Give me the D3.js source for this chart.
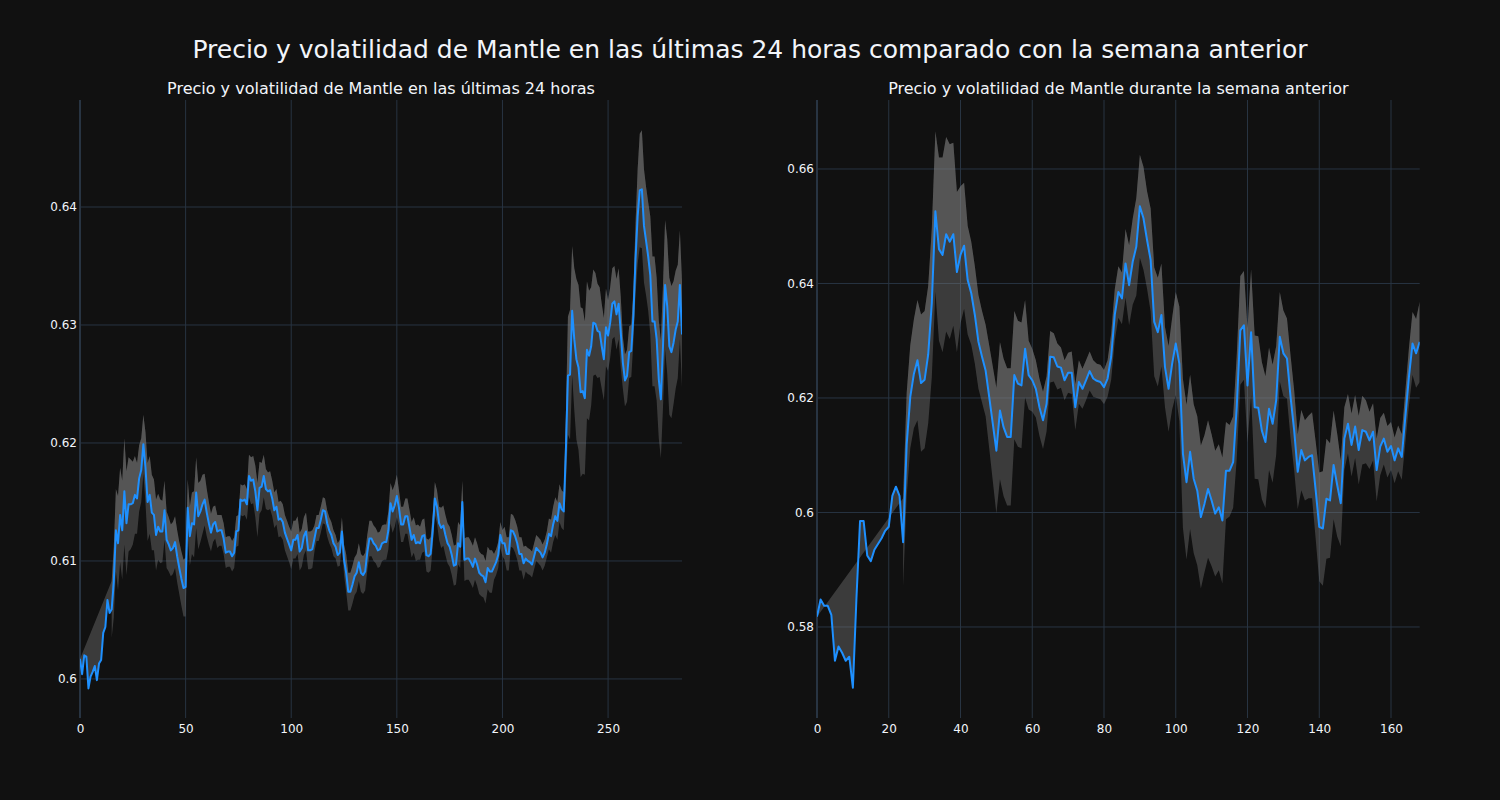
<!DOCTYPE html>
<html><head><meta charset="utf-8">
<script src="https://cdn.jsdelivr.net/npm/d3@7"></script>
<style>html,body{margin:0;padding:0;background:#111111;}svg{display:block;font-family:"DejaVu Sans",Verdana,sans-serif;}</style>
</head><body>
<svg id="chart" width="1500" height="800"></svg>
<script>
const mainTitle = "Precio y volatilidad de Mantle en las últimas 24 horas comparado con la semana anterior";
const leftTitle = "Precio y volatilidad de Mantle en las últimas 24 horas";
const rightTitle = "Precio y volatilidad de Mantle durante la semana anterior";

const leftXTicks = [0, 50, 100, 150, 200, 250];
const leftYTicks = [0.60, 0.61, 0.62, 0.63, 0.64];
const rightXTicks = [0, 20, 40, 60, 80, 100, 120, 140, 160];
const rightYTicks = [0.58, 0.60, 0.62, 0.64, 0.66];

const leftPrice = [
0.6017,0.6004,0.6020,0.6019,0.5992,0.6002,0.6006,0.6011,0.5999,0.6013,
0.6016,0.6039,0.6044,0.6067,0.6056,0.6059,0.6082,0.6126,0.6115,0.6139,
0.6126,0.6159,0.6132,0.6148,0.6148,0.6149,0.6156,0.6153,0.6170,0.6177,
0.6199,0.6179,0.6150,0.6156,0.6141,0.6139,0.6122,0.6129,0.6125,0.6125,
0.6143,0.6118,0.6114,0.6109,0.6111,0.6116,0.6104,0.6094,0.6085,0.6077,
0.6078,0.6145,0.6121,0.6132,0.6131,0.6158,0.6138,0.6142,0.6148,0.6152,
0.6141,0.6132,0.6124,0.6131,0.6133,0.6125,0.6126,0.6126,0.6119,0.6107,
0.6108,0.6108,0.6104,0.6107,0.6125,0.6126,0.6152,0.6151,0.6152,0.6148,
0.6172,0.6168,0.6169,0.6159,0.6143,0.6162,0.6163,0.6172,0.6161,0.6159,
0.6160,0.6153,0.6143,0.6146,0.6135,0.6136,0.6133,0.6124,0.6119,0.6114,
0.6109,0.6118,0.6118,0.6122,0.6108,0.6111,0.6121,0.6125,0.6109,0.6109,
0.6110,0.6119,0.6128,0.6128,0.6135,0.6143,0.6142,0.6132,0.6126,0.6122,
0.6115,0.6112,0.6105,0.6107,0.6125,0.6101,0.6090,0.6074,0.6074,0.6080,
0.6087,0.6090,0.6099,0.6090,0.6088,0.6091,0.6107,0.6119,0.6119,0.6115,
0.6113,0.6109,0.6110,0.6115,0.6116,0.6116,0.6126,0.6149,0.6142,0.6147,
0.6155,0.6145,0.6131,0.6131,0.6138,0.6138,0.6128,0.6118,0.6122,0.6115,
0.6116,0.6115,0.6121,0.6122,0.6105,0.6104,0.6106,0.6126,0.6153,0.6146,
0.6132,0.6128,0.6130,0.6122,0.6115,0.6112,0.6105,0.6096,0.6097,0.6115,
0.6112,0.6150,0.6101,0.6102,0.6102,0.6099,0.6095,0.6102,0.6097,0.6090,
0.6088,0.6087,0.6082,0.6094,0.6091,0.6091,0.6095,0.6099,0.6105,0.6122,
0.6115,0.6115,0.6106,0.6106,0.6126,0.6125,0.6121,0.6115,0.6106,0.6106,
0.6098,0.6102,0.6100,0.6099,0.6097,0.6104,0.6111,0.6109,0.6107,0.6103,
0.6107,0.6114,0.6123,0.6121,0.6131,0.6138,0.6134,0.6149,0.6144,0.6142,
0.6192,0.6257,0.6258,0.6312,0.6288,0.6271,0.6264,0.6243,0.6244,0.6238,
0.6279,0.6274,0.6282,0.6302,0.6301,0.6295,0.6294,0.6282,0.6271,0.6298,
0.6291,0.6302,0.6318,0.6320,0.6309,0.6318,0.6294,0.6268,0.6253,0.6257,
0.6277,0.6278,0.6308,0.6356,0.6392,0.6414,0.6415,0.6384,0.6371,0.6358,
0.6342,0.6303,0.6303,0.6288,0.6254,0.6237,0.6282,0.6334,0.6316,0.6282,
0.6277,0.6285,0.6296,0.6303,0.6334,0.6292
];

const leftVol = [
null,null,null,null,null,null,null,null,null,null,
null,null,null,null,null,0.0024,0.0030,0.0035,0.0040,0.0040,
0.0042,0.0045,0.0044,0.0040,0.0038,0.0035,0.0033,0.0030,0.0028,0.0027,
0.0025,0.0030,0.0033,0.0033,0.0032,0.0030,0.0030,0.0028,0.0027,0.0026,
0.0025,0.0024,0.0023,0.0022,0.0022,0.0022,0.0022,0.0022,0.0023,0.0024,
0.0025,0.0024,0.0025,0.0026,0.0028,0.0030,0.0028,0.0026,0.0025,0.0022,
0.0020,0.0018,0.0016,0.0015,0.0014,0.0014,0.0013,0.0013,0.0013,0.0013,
0.0013,0.0013,0.0013,0.0013,0.0013,0.0013,0.0013,0.0013,0.0013,0.0013,
0.0018,0.0020,0.0020,0.0022,0.0023,0.0022,0.0020,0.0018,0.0017,0.0016,
0.0016,0.0015,0.0015,0.0015,0.0015,0.0015,0.0015,0.0015,0.0015,0.0015,
0.0016,0.0016,0.0016,0.0016,0.0016,0.0016,0.0016,0.0016,0.0016,0.0016,
0.0016,0.0011,0.0011,0.0011,0.0011,0.0011,0.0011,0.0011,0.0011,0.0011,
0.0011,0.0010,0.0010,0.0011,0.0012,0.0013,0.0016,0.0016,0.0016,0.0016,
0.0016,0.0016,0.0016,0.0016,0.0016,0.0016,0.0015,0.0015,0.0015,0.0015,
0.0015,0.0015,0.0015,0.0015,0.0015,0.0015,0.0016,0.0017,0.0018,0.0018,
0.0018,0.0015,0.0015,0.0015,0.0015,0.0015,0.0015,0.0015,0.0015,0.0015,
0.0015,0.0014,0.0014,0.0014,0.0014,0.0014,0.0014,0.0014,0.0014,0.0014,
0.0014,0.0017,0.0017,0.0017,0.0017,0.0017,0.0017,0.0017,0.0017,0.0018,
0.0018,0.0018,0.0018,0.0018,0.0018,0.0018,0.0018,0.0018,0.0018,0.0018,
0.0018,0.0018,0.0018,0.0018,0.0018,0.0018,0.0011,0.0011,0.0011,0.0011,
0.0011,0.0014,0.0014,0.0014,0.0014,0.0014,0.0014,0.0014,0.0014,0.0014,
0.0014,0.0011,0.0011,0.0011,0.0011,0.0011,0.0011,0.0011,0.0011,0.0011,
0.0011,0.0011,0.0013,0.0014,0.0015,0.0016,0.0016,0.0016,0.0016,0.0016,
0.0030,0.0050,0.0055,0.0055,0.0060,0.0068,0.0070,0.0072,0.0070,0.0065,
0.0058,0.0055,0.0050,0.0045,0.0043,0.0040,0.0038,0.0036,0.0035,0.0033,
0.0030,0.0030,0.0030,0.0030,0.0030,0.0030,0.0030,0.0022,0.0022,0.0022,
0.0022,0.0022,0.0022,0.0030,0.0040,0.0048,0.0050,0.0048,0.0046,0.0046,
0.0050,0.0055,0.0055,0.0052,0.0050,0.0050,0.0052,0.0055,0.0057,0.0058,
0.0056,0.0052,0.0050,0.0048,0.0046,0.0045
];

const rightPrice = [
0.5818,0.5848,0.5837,0.5837,0.5821,0.5741,0.5766,0.5755,0.5741,0.5748,
0.5694,0.5851,0.5985,0.5985,0.5925,0.5915,0.5935,0.5945,0.5955,0.5968,
0.5975,0.6029,0.6045,0.6029,0.5948,0.6119,0.6202,0.6242,0.6266,0.6226,
0.6232,0.6276,0.6366,0.6526,0.6460,0.6450,0.6486,0.6473,0.6486,0.6420,
0.6450,0.6466,0.6406,0.6383,0.6345,0.6298,0.6272,0.6248,0.6202,0.6155,
0.6108,0.6178,0.6149,0.6132,0.6132,0.6240,0.6225,0.6222,0.6286,0.6240,
0.6231,0.6216,0.6184,0.6161,0.6190,0.6272,0.6271,0.6255,0.6253,0.6231,
0.6244,0.6244,0.6184,0.6228,0.6216,0.6231,0.6247,0.6234,0.6230,0.6228,
0.6219,0.6234,0.6272,0.6345,0.6385,0.6374,0.6435,0.6397,0.6438,0.6464,
0.6535,0.6514,0.6476,0.6441,0.6333,0.6315,0.6345,0.6254,0.6216,0.6260,
0.6295,0.6260,0.6103,0.6053,0.6106,0.6059,0.6038,0.5992,0.6015,0.6041,
0.6021,0.5998,0.6009,0.5986,0.6073,0.6073,0.6088,0.6184,0.6318,0.6327,
0.6222,0.6315,0.6184,0.6183,0.6143,0.6123,0.6181,0.6155,0.6196,0.6307,
0.6278,0.6269,0.6202,0.6144,0.6071,0.6109,0.6091,0.6097,0.6100,0.6039,
0.5975,0.5972,0.6024,0.6021,0.6083,0.6048,0.6016,0.6129,0.6155,0.6118,
0.6150,0.6109,0.6144,0.6141,0.6126,0.6141,0.6074,0.6115,0.6129,0.6106,
0.6116,0.6091,0.6112,0.6097,0.6167,0.6237,0.6295,0.6278,0.6298
];

const rightVol = [
null,null,null,null,null,null,null,null,null,null,
null,null,null,null,null,null,null,null,null,null,
null,null,null,null,0.0077,0.0090,0.0090,0.0095,0.0105,0.0120,
0.0120,0.0120,0.0130,0.0140,0.0160,0.0170,0.0170,0.0170,0.0160,0.0140,
0.0120,0.0110,0.0095,0.0090,0.0085,0.0082,0.0080,0.0080,0.0090,0.0100,
0.0110,0.0120,0.0120,0.0120,0.0120,0.0112,0.0110,0.0110,0.0085,0.0060,
0.0055,0.0050,0.0050,0.0050,0.0048,0.0045,0.0042,0.0040,0.0035,0.0035,
0.0035,0.0037,0.0040,0.0038,0.0035,0.0035,0.0034,0.0032,0.0030,0.0030,
0.0030,0.0032,0.0040,0.0045,0.0045,0.0045,0.0060,0.0070,0.0075,0.0085,
0.0090,0.0090,0.0085,0.0090,0.0095,0.0095,0.0090,0.0070,0.0075,0.0080,
0.0090,0.0100,0.0130,0.0135,0.0135,0.0130,0.0130,0.0125,0.0120,0.0120,
0.0115,0.0110,0.0110,0.0110,0.0085,0.0080,0.0080,0.0090,0.0095,0.0095,
0.0100,0.0110,0.0125,0.0125,0.0120,0.0115,0.0107,0.0103,0.0095,0.0078,
0.0075,0.0070,0.0072,0.0070,0.0065,0.0070,0.0070,0.0072,0.0075,0.0085,
0.0095,0.0100,0.0105,0.0100,0.0095,0.0090,0.0075,0.0055,0.0052,0.0055,
0.0055,0.0060,0.0060,0.0055,0.0050,0.0050,0.0055,0.0050,0.0045,0.0045,
0.0042,0.0040,0.0040,0.0040,0.0045,0.0050,0.0055,0.0060,0.0070
];

const svg = d3.select("#chart");
svg.append("rect").attr("width",1500).attr("height",800).attr("fill","#111111");

const TEXT = "#f2f5fa", GRID = "#283442", LINE = "#1e90ff", BAND = "rgba(128,128,128,0.38)";
const fmt = v => String(Math.round(v*100)/100);

svg.append("text").attr("x",750).attr("y",58).attr("text-anchor","middle")
  .attr("fill",TEXT).attr("font-size",25).text(mainTitle);

function drawPanel(cfg){
  const x = d3.scaleLinear().domain(cfg.xDomain).range([cfg.left, cfg.right]);
  const y = d3.scaleLinear().domain(cfg.yDomain).range([cfg.bottom, cfg.top]);
  const g = svg.append("g");
  const clipId = "clip" + cfg.id;
  svg.append("clipPath").attr("id",clipId).append("rect")
    .attr("x",cfg.left).attr("y",cfg.top).attr("width",cfg.right-cfg.left).attr("height",cfg.bottom-cfg.top);

  g.selectAll(".hg").data(cfg.yTicks).join("line")
    .attr("x1",cfg.left).attr("x2",cfg.right).attr("y1",d=>y(d)).attr("y2",d=>y(d))
    .attr("stroke",GRID).attr("stroke-width",1);
  g.selectAll(".vg").data(cfg.xTicks.filter(t=>t!==0)).join("line")
    .attr("y1",cfg.top).attr("y2",cfg.bottom).attr("x1",d=>x(d)).attr("x2",d=>x(d))
    .attr("stroke",GRID).attr("stroke-width",1);
  g.append("line").attr("x1",x(0)).attr("x2",x(0)).attr("y1",cfg.top).attr("y2",cfg.bottom)
    .attr("stroke",GRID).attr("stroke-width",2);

  const pts = cfg.price.map((p,i)=>({i:i,p:p,v:cfg.vol[i]}));
  const banded = pts.filter(d=>d.v!=null);
  const line = d3.line();
  const polyA = banded.map(d=>[x(d.i),y(d.p+d.v)])
    .concat(pts.slice().reverse().map(d=>[x(d.i),y(d.p)]));
  const polyB = banded.map(d=>[x(d.i),y(d.p-d.v)])
    .concat(banded.slice().reverse().map(d=>[x(d.i),y(d.p+d.v)]));
  const plot = g.append("g").attr("clip-path",`url(#${clipId})`);
  plot.append("path").attr("d",line(polyA)+"Z").attr("fill",BAND).attr("stroke","none");
  plot.append("path").attr("d",line(polyB)+"Z").attr("fill",BAND).attr("stroke","none");
  plot.append("path").datum(pts)
    .attr("d",d3.line().x(d=>x(d.i)).y(d=>y(d.p)))
    .attr("fill","none").attr("stroke",LINE).attr("stroke-width",2).attr("stroke-linejoin","round");

  const ax = g.append("g").attr("transform",`translate(0,${cfg.bottom})`)
    .call(d3.axisBottom(x).tickValues(cfg.xTicks).tickSize(0).tickPadding(6).tickFormat(d3.format("d")));
  ax.select(".domain").remove();
  ax.selectAll("text").attr("fill",TEXT).attr("font-size",12).attr("font-family","DejaVu Sans, sans-serif");
  const ay = g.append("g").attr("transform",`translate(${cfg.left},0)`)
    .call(d3.axisLeft(y).tickValues(cfg.yTicks).tickSize(0).tickPadding(3).tickFormat(fmt));
  ay.select(".domain").remove();
  ay.selectAll("text").attr("fill",TEXT).attr("font-size",12).attr("font-family","DejaVu Sans, sans-serif");

  g.append("text").attr("x",(cfg.left+cfg.right)/2).attr("y",94).attr("text-anchor","middle")
    .attr("fill",TEXT).attr("font-size",16).text(cfg.title);
}

drawPanel({id:"L", price:leftPrice, vol:leftVol, xTicks:leftXTicks, yTicks:leftYTicks,
  xDomain:[0,285], yDomain:[0.59669,0.64907], left:80, right:682, top:100, bottom:718, title:leftTitle});
drawPanel({id:"R", price:rightPrice, vol:rightVol, xTicks:rightXTicks, yTicks:rightYTicks,
  xDomain:[0,168], yDomain:[0.5641,0.67205], left:817, right:1419.7, top:100, bottom:718, title:rightTitle});
</script>
</body></html>
